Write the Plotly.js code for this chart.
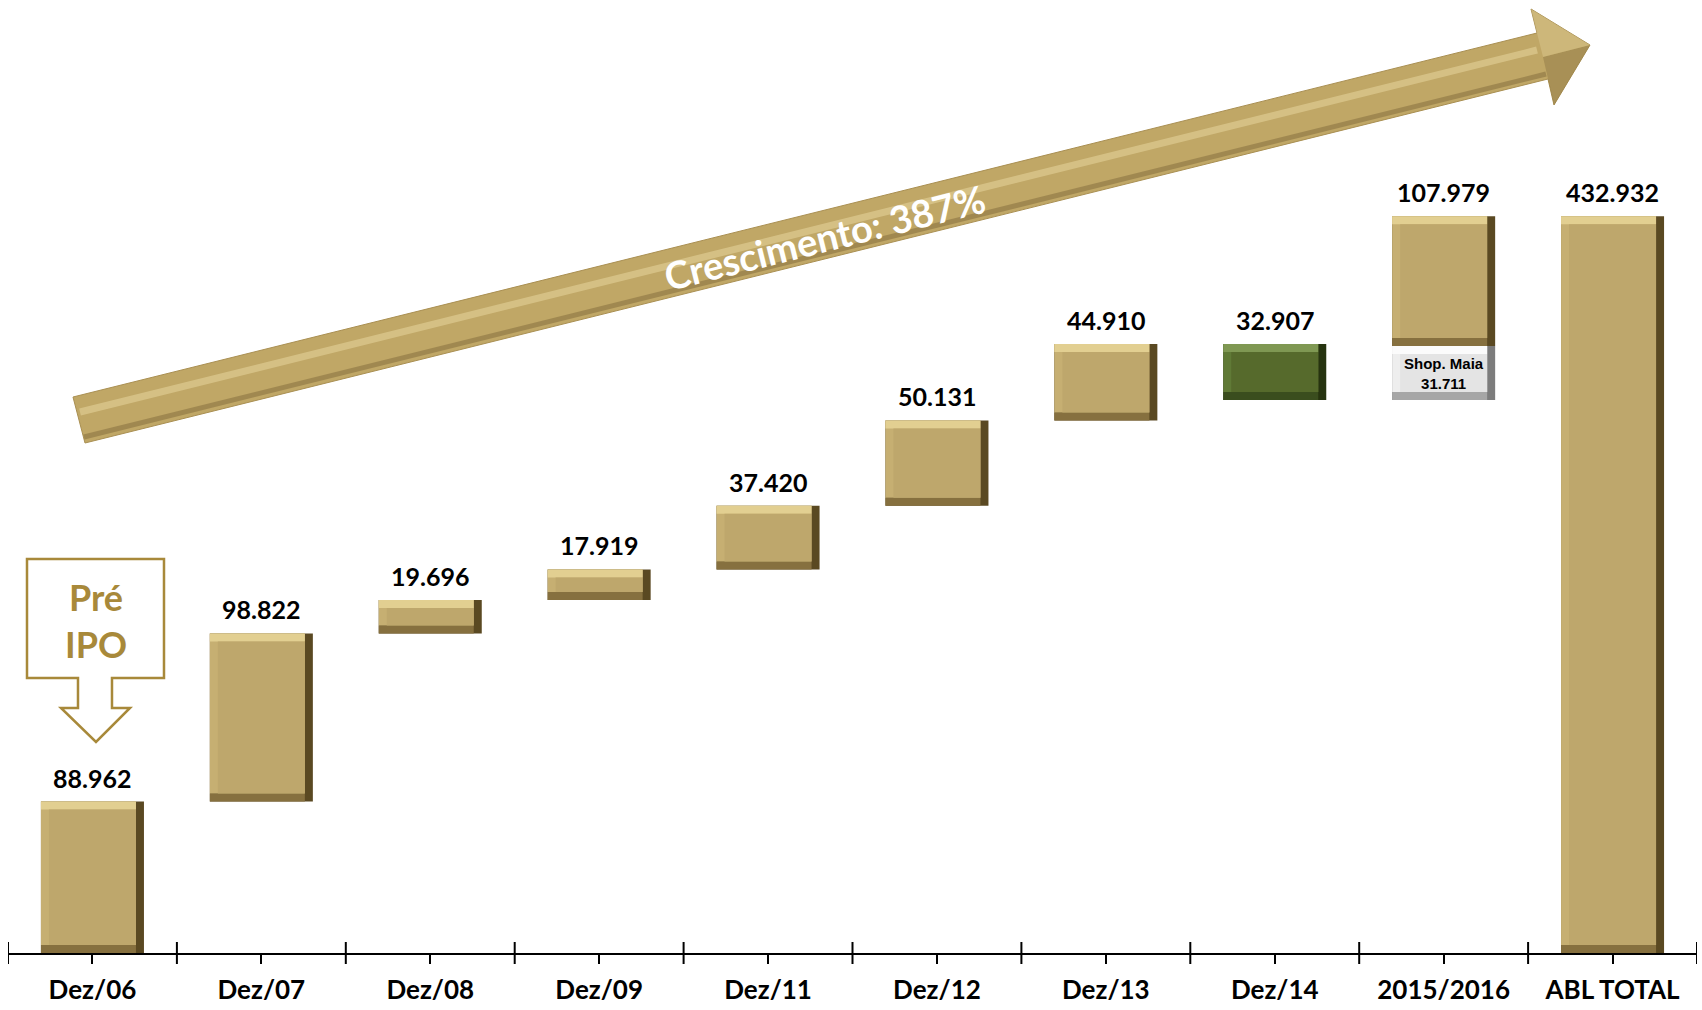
<!DOCTYPE html>
<html><head><meta charset="utf-8">
<script src="https://cdn.plot.ly/plotly-3.0.1.min.js"></script>
<style>html,body{margin:0;padding:0;background:#fff}#chart{width:1702px;height:1010px}</style>
</head><body><div id="chart"></div>
<script>
// ---- data ----
const categories = ['Dez/06','Dez/07','Dez/08','Dez/09','Dez/11','Dez/12','Dez/13','Dez/14','2015/2016','ABL TOTAL'];
const changes = [88962, 98822, 19696, 17919, 37420, 50131, 44910, -32907, 107979];
const totalABL = 432932;
const shopMaiaCategory = '2015/2016';
const shopMaiaLabel = 'Shop. Maia';
const shopMaiaValue = 31711;
const growthLabel = 'Crescimento: 387%';
const preIpoLabel = 'Pré<br>IPO';

// ---- helpers ----
const fmt = n => String(Math.abs(n)).replace(/\B(?=(\d{3})+(?!\d))/g, '.');
const W = 1702, H = 1010, ML = 8, MR = 5, MT = 0, MB = 57;
const plotW = W - ML - MR, plotH = H - MT - MB;
const YMAX = 560000;
const px = (x, y) => [+((x - ML) / plotW).toFixed(5), +((H - MB - y) / plotH).toFixed(5)];
const pathOf = pts => 'M' + pts.map(p => px(p[0], p[1]).join(',')).join('L') + 'Z';

// ---- build waterfall segments ----
const segs = [];   // {x, base, h, kind}
const labels = []; // {x, top, text}
let run = 0;
changes.forEach((c, i) => {
  const x = categories[i];
  if (c >= 0) {
    if (x === shopMaiaCategory) {
      segs.push({x, base: run, h: shopMaiaValue, kind: 'grey'});
      segs.push({x, base: run + shopMaiaValue, h: c - shopMaiaValue, kind: 'gold'});
    } else {
      segs.push({x, base: run, h: c, kind: 'gold'});
    }
    labels.push({x, top: run + c, text: fmt(c)});
  } else {
    segs.push({x, base: run + c, h: -c, kind: 'green'});
    labels.push({x, top: run, text: fmt(c)});
  }
  run += c;
});
segs.push({x: categories[categories.length - 1], base: 0, h: totalABL, kind: 'gold'});
labels.push({x: categories[categories.length - 1], top: totalABL, text: fmt(totalABL)});

// ---- bevelled bars ----
const BW = 0.61;
const dX = 8 / (plotW / categories.length);
const dY = 8 * YMAX / plotH;
const palettes = {
  gold:  {dark:'#5a4922', bottom:'#86703f', left:'#c6af72', top:'#e2cf91', face:'#bea76c'},
  green: {dark:'#26330f', bottom:'#3a4d1e', left:'#607a36', top:'#7f9853', face:'#566a2c'},
  grey:  {dark:'#7c7c7c', bottom:'#a6a6a6', left:'#eeeeee', top:'#fbfbfb', face:'#e4e4e4'}
};
const traces = [];
Object.keys(palettes).forEach(kind => {
  const s = segs.filter(g => g.kind === kind);
  if (!s.length) return;
  const P = palettes[kind];
  const xs = s.map(g => g.x);
  const mk = (color, width, offset, base, y) => ({
    type: 'bar', x: xs, y, base, width, offset,
    marker: {color, line: {width: 0}}, hoverinfo: 'skip', showlegend: false
  });
  traces.push(mk(P.dark, BW, -BW/2, s.map(g => g.base), s.map(g => g.h)));
  traces.push(mk(P.bottom, BW - dX, -BW/2, s.map(g => g.base), s.map(g => dY)));
  traces.push(mk(P.left, BW - dX, -BW/2, s.map(g => g.base + dY), s.map(g => g.h - dY)));
  traces.push(mk(P.top, BW - dX, -BW/2, s.map(g => g.base + g.h - dY), s.map(g => dY)));
  traces.push(mk(P.face, BW - 2*dX, -BW/2 + dX, s.map(g => g.base + dY), s.map(g => g.h - 2*dY)));
});

// ---- annotations ----
const annotations = labels.map(l => ({
  x: l.x, y: l.top, xref: 'x', yref: 'y', text: l.text, showarrow: false,
  xanchor: 'center', yanchor: 'bottom', yshift: 7,
  font: {family: 'Lato, "Liberation Sans", sans-serif', size: 25, color: '#000', weight: 700}
}));
const maia = segs.find(g => g.kind === 'grey');
annotations.push({
  x: maia.x, y: maia.base + maia.h / 2, xref: 'x', yref: 'y', showarrow: false,
  xanchor: 'center', yanchor: 'middle',
  text: shopMaiaLabel + '<br>' + fmt(shopMaiaValue),
  font: {family: '"Liberation Sans", Arial, sans-serif', size: 15, color: '#000', weight: 700}
});
const gp = px(824, 237);
annotations.push({
  x: gp[0], y: gp[1], xref: 'paper', yref: 'paper', showarrow: false,
  xanchor: 'center', yanchor: 'middle',
  text: growthLabel, textangle: -14,
  font: {family: 'Lato, "Open Sans", sans-serif', size: 38, color: '#ffffff', weight: 700}
});
const ip = px(96, 620);
annotations.push({
  x: ip[0], y: ip[1], xref: 'paper', yref: 'paper', showarrow: false,
  xanchor: 'center', yanchor: 'middle', align: 'center',
  text: preIpoLabel,
  font: {family: 'Lato, "Open Sans", sans-serif', size: 36, color: '#a8893a', weight: 700}
});

// ---- decorative shapes ----
const shapes = [];
shapes.push({type: 'path', xref: 'paper', yref: 'paper', layer: 'below',
  path: pathOf([[73,397],[1537,33],[1531,9],[1590,45],[1554,105],[1548,79],[85,443]]),
  fillcolor: '#c0a766', line: {color: '#a98f52', width: 1}});
shapes.push({type: 'path', xref: 'paper', yref: 'paper', layer: 'below',
  path: pathOf([[1543,57],[1590,45],[1554,105]]),
  fillcolor: '#8f7a45', opacity: 0.5, line: {width: 0}});
shapes.push({type: 'path', xref: 'paper', yref: 'paper', layer: 'below',
  path: pathOf([[1531,9],[1590,45],[1543,57]]),
  fillcolor: '#d9c78e', opacity: 0.5, line: {width: 0}});
const h0 = px(80, 412), h1 = px(1537, 50);
shapes.push({type: 'line', xref: 'paper', yref: 'paper', layer: 'below', x0: h0[0], y0: h0[1], x1: h1[0], y1: h1[1],
  line: {color: '#eadaa3', width: 7}, opacity: 0.5});
const s0 = px(84, 437), s1 = px(1546, 74);
shapes.push({type: 'line', xref: 'paper', yref: 'paper', layer: 'below', x0: s0[0], y0: s0[1], x1: s1[0], y1: s1[1],
  line: {color: '#86703f', width: 5}, opacity: 0.55});
shapes.push({type: 'path', xref: 'paper', yref: 'paper',
  path: pathOf([[27,559],[164,559],[164,678],[112,678],[112,708],[130,708],[96,742],[61,708],[78,708],[78,678],[27,678]]),
  fillcolor: 'rgba(0,0,0,0)', line: {color: '#a8893a', width: 2.5}});
for (let i = 0; i <= categories.length; i++) {
  shapes.push({type: 'line', xref: 'x', yref: 'paper', x0: i - 0.5, x1: i - 0.5,
    y0: -11 / plotH, y1: 11 / plotH, line: {color: '#000', width: 2}});
}

const layout = {
  width: W, height: H,
  margin: {l: ML, r: MR, t: MT, b: MB},
  paper_bgcolor: '#fff', plot_bgcolor: 'rgba(0,0,0,0)',
  barmode: 'overlay', showlegend: false,
  xaxis: {type: 'category', categoryorder: 'array', categoryarray: categories,
    range: [-0.5, categories.length - 0.5], showgrid: false, zeroline: false,
    showline: true, linecolor: '#000', linewidth: 2,
    ticks: 'outside', ticklen: 9, tickwidth: 2, tickcolor: '#000',
    ticklabelstandoff: 4,
    tickfont: {family: 'Lato, "Liberation Sans", sans-serif', size: 26, color: '#000', weight: 700}},
  yaxis: {range: [0, YMAX], visible: false, fixedrange: true},
  annotations, shapes
};
Plotly.newPlot('chart', traces, layout, {displayModeBar: false, staticPlot: true});
</script></body></html>
